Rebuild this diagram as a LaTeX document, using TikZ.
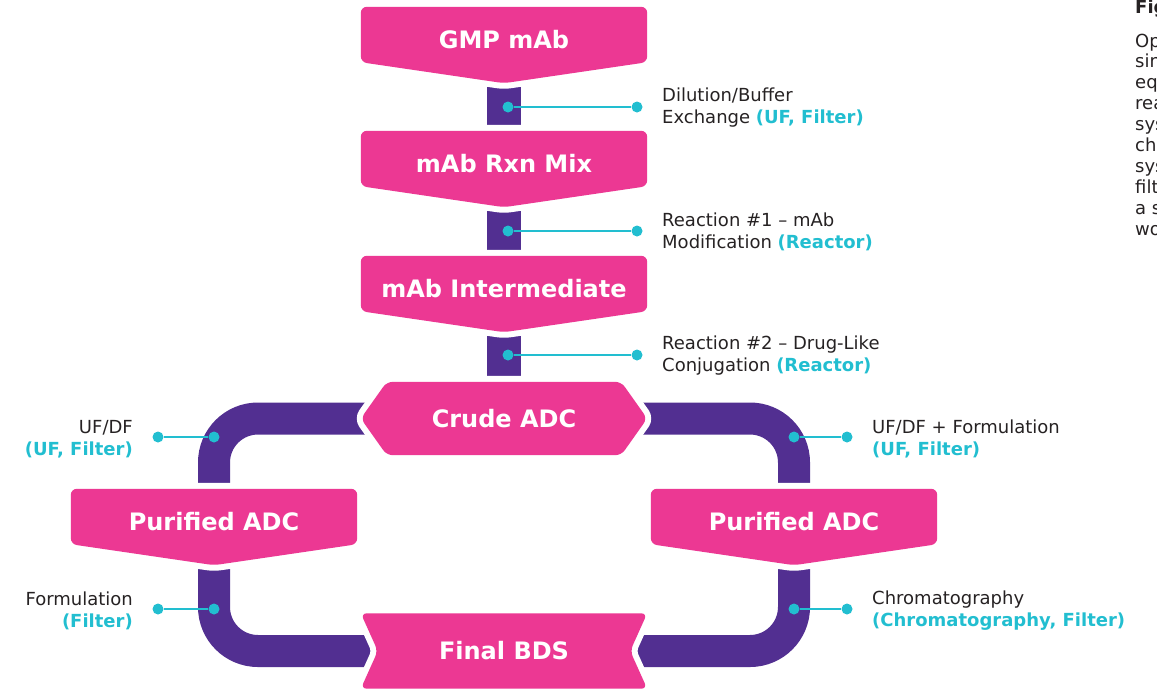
\documentclass[tikz,border=0pt]{standalone}
\usepackage{fontspec}
\setmainfont{DejaVu Sans}
\usepackage{tikz}
\usepackage{xcolor}
\definecolor{ColPink}{RGB}{236,56,147}
\definecolor{ColPurple}{RGB}{82,47,145}
\definecolor{ColCyan}{RGB}{34,190,208}
\definecolor{ColText}{RGB}{38,34,35}
\pgfdeclarelayer{pipes}
\pgfdeclarelayer{shapes}
\pgfsetlayers{pipes,shapes,main}
\tikzstyle{StepText}=[inner sep=0pt,minimum width=286pt,text=white,
font=\fontsize{24}{28}\selectfont\bfseries,text height=17.5pt,text depth=0pt]
\tikzstyle{StepArrow}=[StepText,minimum height=66pt]
\tikzstyle{StepHex}=[StepText,minimum height=73pt]
\tikzstyle{StepFill}=[fill=ColPink,rounded corners=6pt,preaction={draw=white,line width=12pt}]
\tikzstyle{Pipe}=[draw=ColPurple,line width=32pt,rounded corners=44pt]
\tikzstyle{Stub}=[draw=ColPurple,line width=34pt]
\tikzstyle{DotTag}=[circle,fill=ColCyan,inner sep=0pt,minimum size=11pt]
\tikzstyle{EdgeTag}=[ColCyan,line width=2.5pt]
\tikzstyle{LabelR}=[anchor=west,align=left,inner sep=0pt,text=ColText,font=\fontsize{18}{22}\selectfont]
\tikzstyle{LabelL}=[LabelR,anchor=east,align=right]
\newcommand{\Hw}[1]{\textbf{\color{ColCyan}#1}}

\begin{document}
\begin{tikzpicture}[x=1pt,y=-1pt]
        \useasboundingbox (0,0) rectangle (1157,689);
        \node[StepArrow](gmp)at(504,40){GMP mAb};
        \node[StepArrow](rxn)at(504,164){mAb Rxn Mix};
        \node[StepArrow](inter)at(504,289){mAb Intermediate};
        \node[StepHex](crude)at(504,418.5){Crude ADC};
        \node[StepArrow](purL)at(214,522){Purified ADC};
        \node[StepArrow](purR)at(794,522){Purified ADC};
        \node[StepHex,minimum height=75pt](final)at(504,651){Final BDS};
        \begin{pgfonlayer}{shapes}
        \foreach \n in {gmp,rxn,inter,purL,purR}
        \fill[StepFill](\n.north west)--(\n.north east)--([yshift=11pt]\n.south east)
          --([yshift=-10pt]\n.south)--([yshift=11pt]\n.south west)--cycle;
        \fill[StepFill](crude.west)--([xshift=26pt]crude.north west)--([xshift=-26pt]crude.north east)
          --(crude.east)--([xshift=-26pt]crude.south east)--([xshift=26pt]crude.south west)--cycle;
        \fill[StepFill](final.north west)--(final.north east)--([xshift=-17pt]final.east)
          --(final.south east)--(final.south west)--([xshift=17pt]final.west)--cycle;
        \end{pgfonlayer}
        \begin{pgfonlayer}{pipes}
        \draw[Stub](gmp)--(rxn);
        \draw[Stub](rxn)--(inter);
        \draw[Stub](inter)--(crude);
        \draw[Pipe](crude.center)-|(purL.center);
        \draw[Pipe](crude.center)-|(purR.center);
        \draw[Pipe](purL.center)|-(final.center);
        \draw[Pipe](purR.center)|-(final.center);
        \end{pgfonlayer}
        % tags on the stubs
        \node[DotTag](a1)at(508,107){};
        \node[DotTag](b1)at(637,107){};
        \node[DotTag](a2)at(508,231){};
        \node[DotTag](b2)at(637,231){};
        \node[DotTag](a3)at(508,355){};
        \node[DotTag](b3)at(637,355){};
        \draw[EdgeTag](a1)--(b1);
        \draw[EdgeTag](a2)--(b2);
        \draw[EdgeTag](a3)--(b3);
        \node[LabelR](t1)at(662,108){Dilution/Buffer\\Exchange \Hw{(UF, Filter)}};
        \node[LabelR](t2)at(662,232){Reaction \#1 – mAb\\Modification \Hw{(Reactor)}};
        \node[LabelR](t3)at(662,356){Reaction \#2 – Drug-Like\\Conjugation \Hw{(Reactor)}};
        % tags on the pipes
        \node[DotTag](a4)at(214,437){};
        \node[DotTag](b4)at(158,437){};
        \node[DotTag](a5)at(214,609){};
        \node[DotTag](b5)at(158,609){};
        \node[DotTag](a6)at(794,437){};
        \node[DotTag](b6)at(847,437){};
        \node[DotTag](a7)at(794,609){};
        \node[DotTag](b7)at(847,609){};
        \draw[EdgeTag](a4)--(b4);
        \draw[EdgeTag](a5)--(b5);
        \draw[EdgeTag](a6)--(b6);
        \draw[EdgeTag](a7)--(b7);
        \node[LabelL](t4)at(133,439){UF/DF\\\Hw{(UF, Filter)}};
        \node[LabelL](t5)at(133,611){Formulation\\\Hw{(Filter)}};
        \node[LabelR](t6)at(872,439){UF/DF + Formulation\\\Hw{(UF, Filter)}};
        \node[LabelR](t7)at(872,611){Chromatography\\\Hw{(Chromatography, Filter)}};
        % caption cut by the edge
        \node[anchor=base west,inner sep=0pt,text=ColText,font=\fontsize{18}{21}\selectfont\bfseries](cap0)at(1135,13){Fig};
        \foreach \w [count=\i] in {Op,sin,eq,rea,sys,ch,sys,filt,a s,wo}
        \node[anchor=base west,inner sep=0pt,text=ColText,font=\fontsize{18}{21}\selectfont](cap\i)at(1135,{47+20.9*(\i-1)}){\w};
    \end{tikzpicture}
\end{document}
